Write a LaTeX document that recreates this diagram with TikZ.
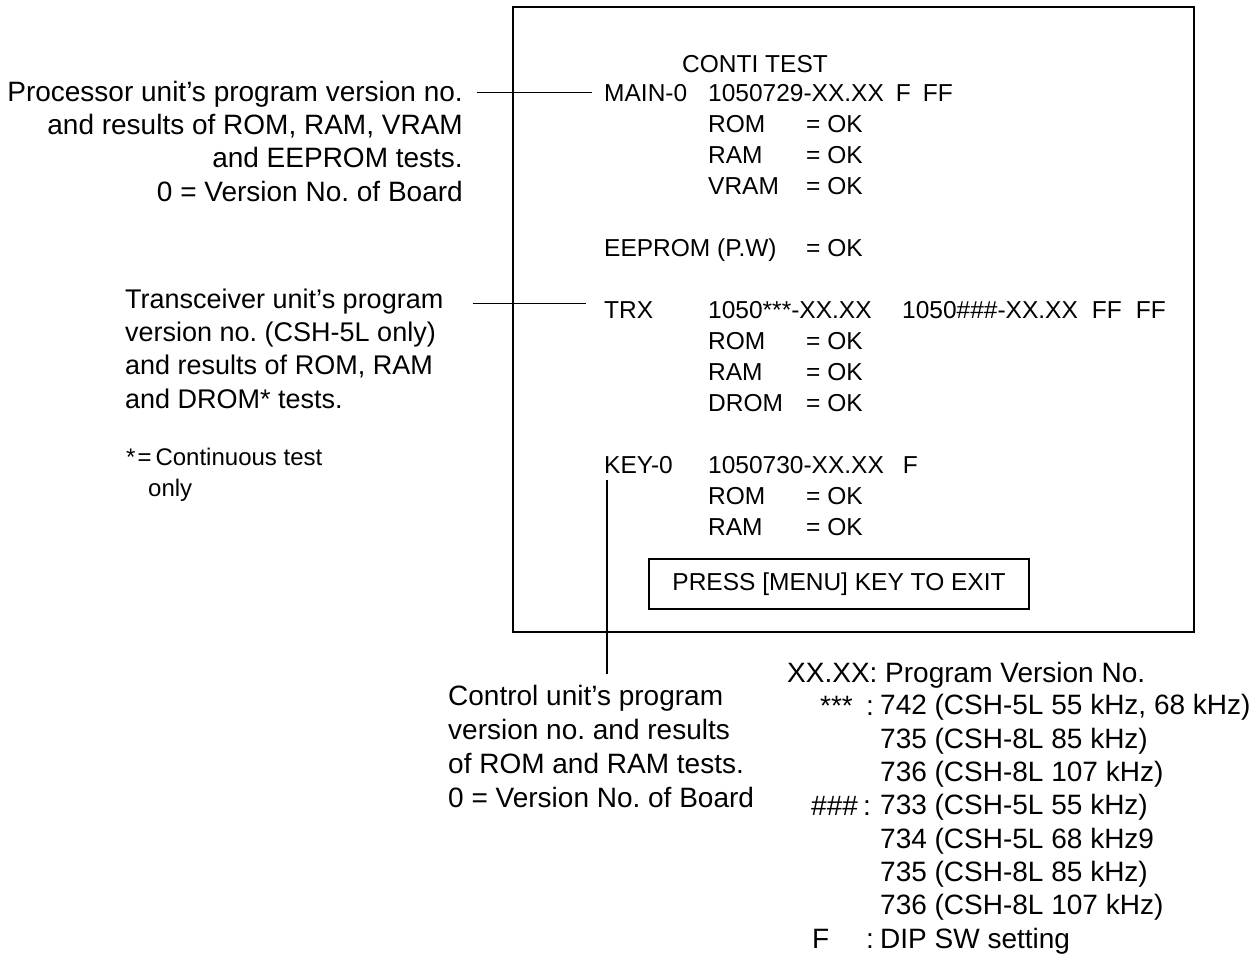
\documentclass[tikz,border=0pt]{standalone}
\usepackage{fontspec}
\setmainfont{Liberation Sans}
\usetikzlibrary{calc}
\frenchspacing

\tikzset{
  scr/.style={anchor=base west,inner sep=0pt,font=\fontsize{24.5}{30}\selectfont},
  note/.style={inner sep=0pt,font=\fontsize{28}{33.3}\selectfont},
  lead/.style={line width=1.1pt},
}

\begin{document}
\begin{tikzpicture}[x=1pt,y=-1pt,line join=miter]
  \useasboundingbox (0,0) rectangle (1258,956);
  % screen frame
  \draw[line width=2.6pt] (513,7) rectangle (1194,632);
  \node[scr] (conti) at (682,72) {CONTI TEST};
  \node[scr] (main) at (604,101) {MAIN-0};
  \node[scr] (mainver) at (708,101) {1050729-XX.XX\hspace{12pt}F\hspace{12pt}FF};
  \node[scr] (rom1) at (708,132) {ROM};
  \node[scr] (ok1) at (806,132) {= OK};
  \node[scr] (ram1) at (708,163) {RAM};
  \node[scr] (ok2) at (806,163) {= OK};
  \node[scr] (vram) at (708,194) {VRAM};
  \node[scr] (ok3) at (806,194) {= OK};
  \node[scr] (eep) at (604,256) {EEPROM (P.W)};
  \node[scr] (ok4) at (806,256) {= OK};
  \node[scr] (trx) at (604,318) {TRX};
  \node[scr] (trxver) at (708,318) {1050***-XX.XX};
  \node[scr] (trxver2) at (902,318) {1050\#\#\#-XX.XX\hspace{14pt}FF\hspace{14pt}FF};
  \node[scr] (rom2) at (708,349) {ROM};
  \node[scr] (ok5) at (806,349) {= OK};
  \node[scr] (ram2) at (708,380) {RAM};
  \node[scr] (ok6) at (806,380) {= OK};
  \node[scr] (drom) at (708,411) {DROM};
  \node[scr] (ok7) at (806,411) {= OK};
  \node[scr] (key) at (604,473) {KEY-0};
  \node[scr] (keyver) at (708,473) {1050730-XX.XX\hspace{19pt}F};
  \node[scr] (rom3) at (708,504) {ROM};
  \node[scr] (ok8) at (806,504) {= OK};
  \node[scr] (ram3) at (708,535) {RAM};
  \node[scr] (ok9) at (806,535) {= OK};
  \node[draw,line width=1.2pt,minimum width=380pt,minimum height=50pt,
    font=\fontsize{24.5}{30}\selectfont] (exitbox) at (839,584) {PRESS [MENU] KEY TO EXIT};

  % notes round the screen (base = last line)
  \node[note,anchor=base east,align=right] (proc) at (463,201)
    {Processor unit’s program version no.\\and results of ROM, RAM, VRAM\\and EEPROM tests.\\0 = Version No. of Board};
  \node[note,font=\fontsize{27}{33.3}\selectfont,anchor=base west,align=left] (trans) at (125,408)
    {Transceiver unit’s program\\version no. (CSH-5L only)\\and results of ROM, RAM\\and DROM* tests.};
  \node[inner sep=0pt,font=\fontsize{24}{31}\selectfont,anchor=base west,align=left] (foot) at (126,496)
    {*\hspace{2pt}=\hspace{4pt}Continuous test\\\hspace{22pt}only};
  \node[note,font=\fontsize{28}{34}\selectfont,anchor=base west,align=left] (ctrl) at (448,807)
    {Control unit’s program\\version no. and results\\of ROM and RAM tests.\\0 = Version No. of Board};

  % legend
  \node[note,anchor=base west] (xxhead) at (787,682) {XX.XX: Program Version No.};
  \node[note,anchor=base west] (kstar) at (820,715) {***};
  \node[note,anchor=base west] (cstar) at (866,715) {:};
  \node[note,anchor=base west,align=left] (vstar) at (880,781.5)
    {742 (CSH-5L 55 kHz, 68 kHz)\\735 (CSH-8L 85 kHz)\\736 (CSH-8L 107 kHz)};
  \node[note,anchor=base west] (khash) at (811,815) {\#\#\#};
  \node[note,anchor=base west] (chash) at (863,815) {:};
  \node[note,anchor=base west,align=left] (vhash) at (880,914.8)
    {733 (CSH-5L 55 kHz)\\734 (CSH-5L 68 kHz9\\735 (CSH-8L 85 kHz)\\736 (CSH-8L 107 kHz)};
  \node[note,anchor=base west] (kdip) at (812,948) {F};
  \node[note,anchor=base west] (cdip) at (866,948) {:};
  \node[note,anchor=base west] (vdip) at (880,948) {DIP SW setting};

  % leader lines
  \draw[lead] ($(proc.east |- main.west)+(14,0)$) -- ($(main.west)+(-12,0)$);
  \draw[lead] ($(trans.east |- trx.west)+(29,-6)$) -- ($(trx.west)+(-18,-6)$);
  \draw[lead] ($(key.south west)+(3,7)$) -- ($(key.south west |- ctrl.north)+(3,-11)$);
\end{tikzpicture}
\end{document}
